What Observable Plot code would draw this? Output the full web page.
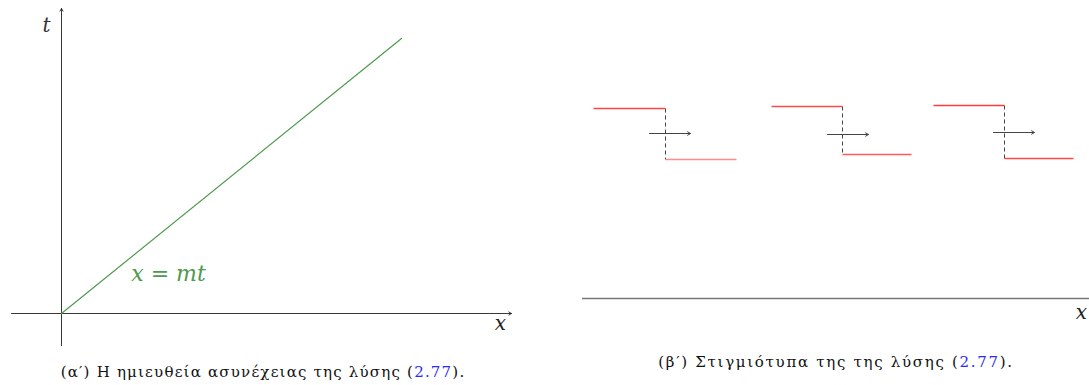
<!DOCTYPE html>
<html>
<head>
<meta charset="utf-8">
<script src="https://cdn.jsdelivr.net/npm/d3@7"></script>
<script src="https://cdn.jsdelivr.net/npm/@observablehq/plot@0.6"></script>
<style>
  html, body { margin: 0; padding: 0; background: #fff; }
  #wrap { position: relative; width: 1089px; height: 385px; overflow: hidden; font-family: "DejaVu Serif", "Liberation Serif", serif; }
  #left, #right { position: absolute; top: 0; }
  #left { left: 0; }
  #right { left: 545px; }
  .cap { position: absolute; font-family: "DejaVu Serif", serif; font-size: 15px; line-height: 18px; color: #111; white-space: nowrap; transform: translateX(-50%); }
  .ref { color: #2a2aff; }
</style>
</head>
<body>
<div id="wrap">
  <div id="left"></div>
  <div id="right"></div>
  <div class="cap" style="left:263px; top:363px; letter-spacing:1.2px;">(α′) Η ημιευθεία ασυνέχειας της λύσης (<span class="ref">2.77</span>).</div>
  <div class="cap" style="left:836px; top:353px; letter-spacing:1.7px;">(β′) Στιγμιότυπα της της λύσης (<span class="ref">2.77</span>).</div>
</div>
<script>
// ---- Left panel: discontinuity half-line x = m t ----
const lineX = [0, 6.8];
const lineT = [0, 5.5];
const xAxisRange = [-1, 9];
const tAxisRange = [-0.64, 6.1];
const lineLabel = "x = mt";
const lineLabelPos = [2.14, 0.8];

// ---- Right panel: snapshots of the step solution ----
const stepLeft  = [0.22, 3.78, 7.02];
const stepJump  = [1.66, 5.20, 8.44];
const stepRight = [3.08, 6.58, 9.82];
const stepUpper = [3.80, 3.84, 3.86];
const stepLower = [2.78, 2.88, 2.80];
const arrowStart = [1.34, 4.90, 8.22];
const arrowEnd   = [2.16, 5.72, 9.04];
const arrowLevel = [3.30, 3.28, 3.32];
const lowerColors = ["#ff8a8a", "#ff5a5a", "#ff4848"];
const upperColors = ["#ff4444", "#ff4c4c", "#ff3a3a"];
const baseRange = [0, 10.14];

const serif = "'DejaVu Serif', 'Liberation Serif', serif";

const leftLine = lineX.map((x, i) => ({x, t: lineT[i]}));
const leftPlot = Plot.plot({
  width: 540, height: 350,
  marginLeft: 11, marginRight: 29, marginTop: 3, marginBottom: 2,
  x: {domain: [-1, 9], axis: null},
  y: {domain: [-0.7, 6.2], axis: null},
  style: {background: "transparent", fontFamily: serif},
  marks: [
    Plot.arrow([{x1: xAxisRange[0], y1: 0, x2: xAxisRange[1], y2: 0}],
      {x1: "x1", y1: "y1", x2: "x2", y2: "y2", stroke: "#222", strokeWidth: 0.9, headLength: 5}),
    Plot.arrow([{x1: 0, y1: tAxisRange[0], x2: 0, y2: tAxisRange[1]}],
      {x1: "x1", y1: "y1", x2: "x2", y2: "y2", stroke: "#222", strokeWidth: 0.9, headLength: 5}),
    Plot.line(leftLine, {x: "x", y: "t", stroke: "#4e9a4e", strokeWidth: 1.2}),
    Plot.text([lineLabel], {x: lineLabelPos[0], y: lineLabelPos[1], text: d => d, fill: "#4e9a4e",
      fontSize: 22, fontStyle: "italic", fontFamily: serif}),
    Plot.text(["t"], {x: -0.3, y: 5.76, text: d => d, fontSize: 20, fontStyle: "italic", fontFamily: serif, fill: "#333"}),
    Plot.text(["x"], {x: 8.78, y: -0.2, text: d => d, fontSize: 20, fontStyle: "italic", fontFamily: serif, fill: "#222"})
  ]
});
document.getElementById("left").appendChild(leftPlot);

const steps = stepLeft.map((l, i) => ({
  l, j: stepJump[i], r: stepRight[i], u: stepUpper[i], lo: stepLower[i],
  a1: arrowStart[i], a2: arrowEnd[i], al: arrowLevel[i], cu: upperColors[i], cl: lowerColors[i]
}));

const rightPlot = Plot.plot({
  width: 544, height: 330,
  marginLeft: 37, marginRight: 0, marginTop: 78, marginBottom: 17,
  x: {domain: baseRange, axis: null},
  y: {domain: [-0.3, 4.4], axis: null},
  style: {background: "transparent", fontFamily: serif},
  marks: [
    Plot.ruleY([0], {x1: baseRange[0], x2: baseRange[1], stroke: "#777", strokeWidth: 1.6}),
    Plot.link(steps, {x1: "j", x2: "j", y1: "u", y2: "lo", stroke: "#444", strokeWidth: 1, strokeDasharray: "4,3"}),
    Plot.arrow(steps, {x1: "a1", y1: "al", x2: "a2", y2: "al", stroke: "#444", strokeWidth: 1, headLength: 5}),
    Plot.link(steps, {x1: "l", x2: "j", y1: "u", y2: "u", stroke: d => d.cu, strokeWidth: 1.3}),
    Plot.link(steps, {x1: "j", x2: "r", y1: "lo", y2: "lo", stroke: d => d.cl, strokeWidth: 1.3}),
    Plot.text(["x"], {x: 9.98, y: -0.28, text: d => d, fontSize: 20, fontStyle: "italic", fontFamily: serif, fill: "#222"})
  ]
});
document.getElementById("right").appendChild(rightPlot);
</script>
</body>
</html>
